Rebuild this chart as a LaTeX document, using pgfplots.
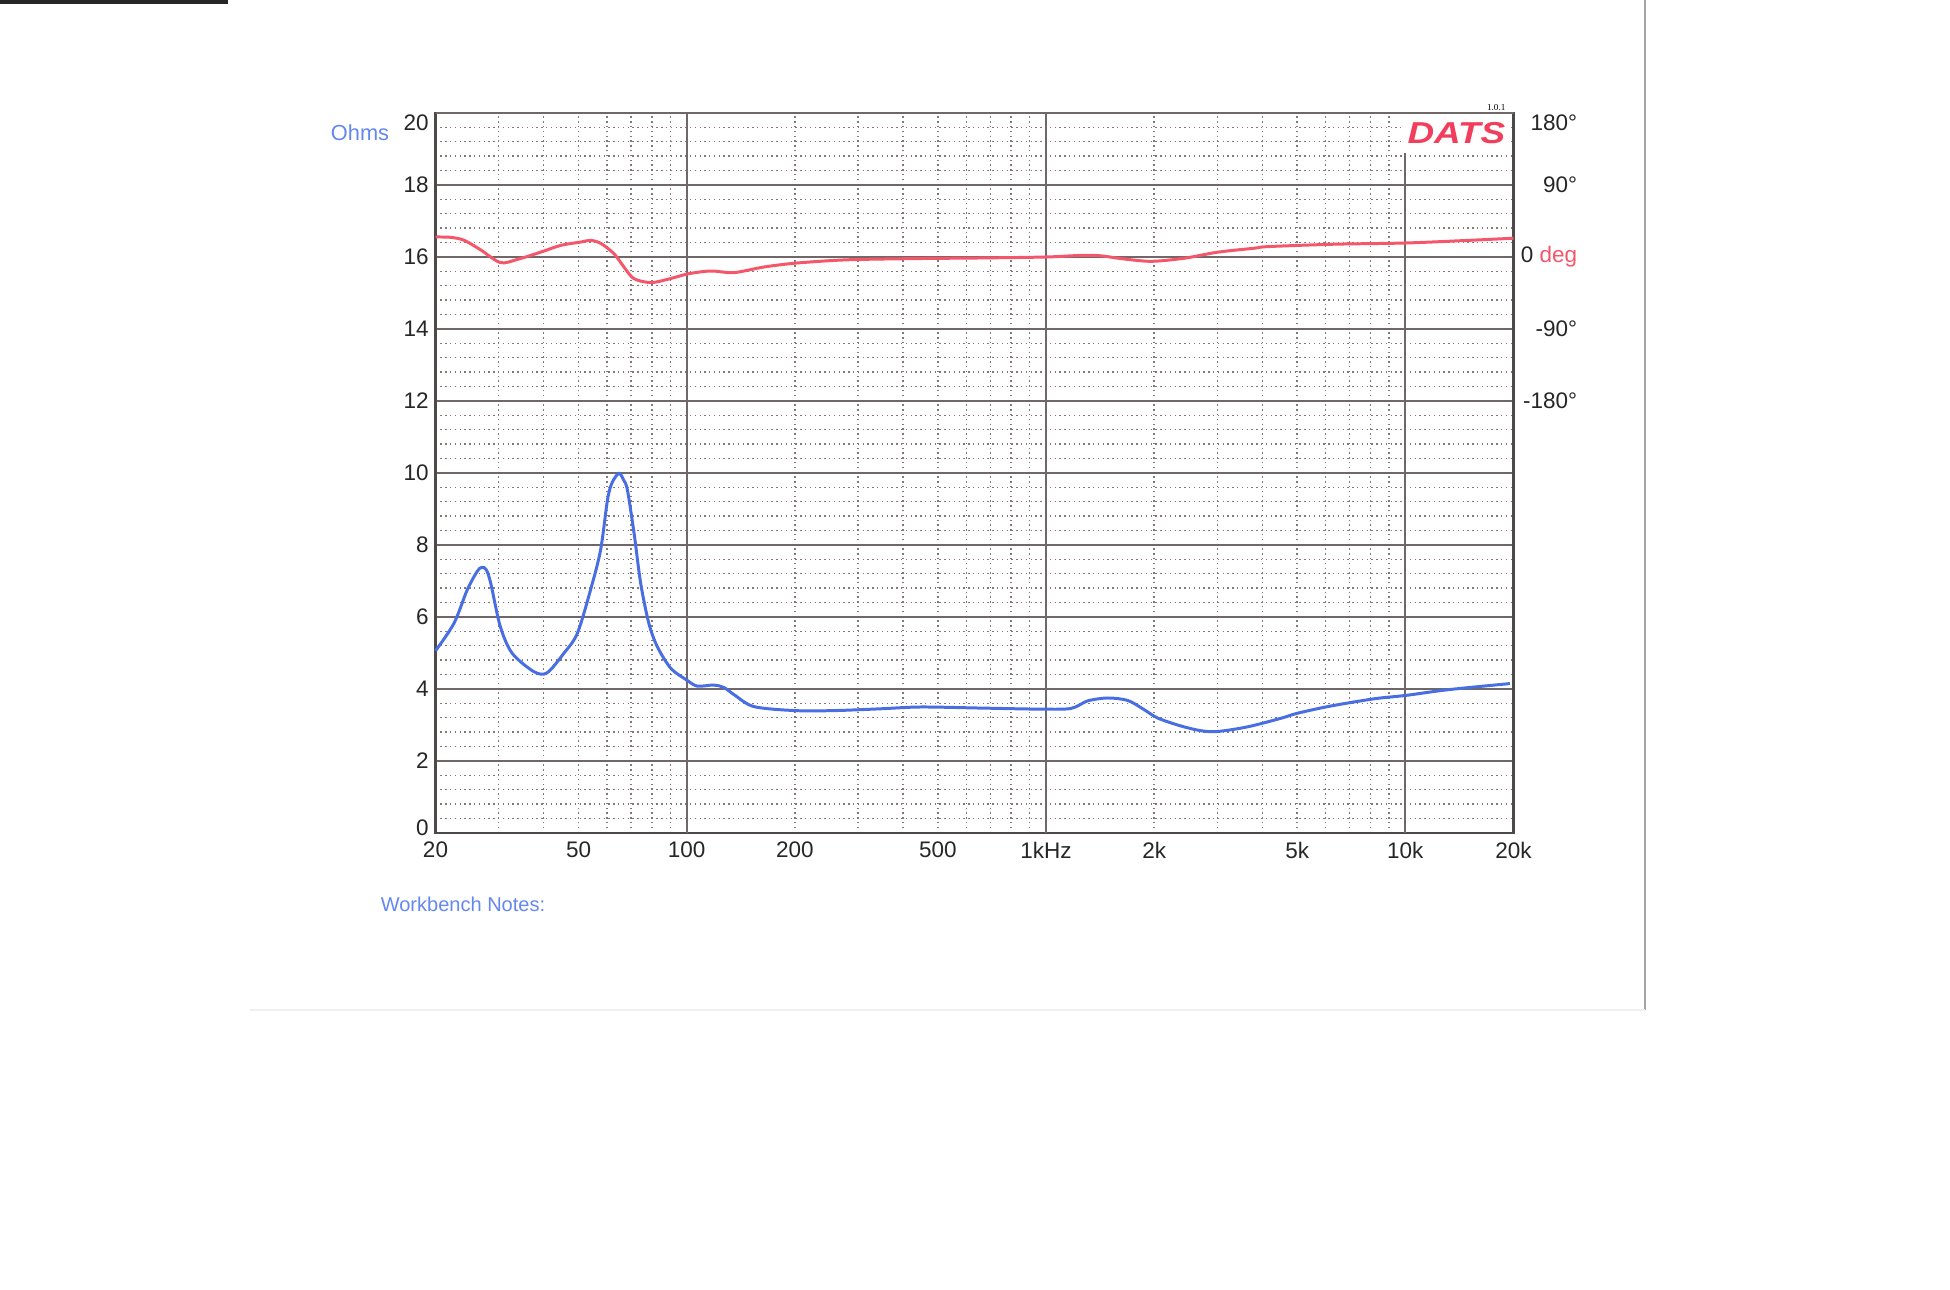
\documentclass[border=0pt]{standalone}
\usepackage{graphicx}
\usepackage{pgfplots}
\pgfplotsset{compat=1.18}
\usepackage{fontspec}
\setmainfont{Liberation Sans}
\newfontfamily\seriffont{Liberation Serif}
\definecolor{imp}{RGB}{72,110,226}
\definecolor{phs}{RGB}{244,86,106}
\definecolor{lbl}{RGB}{100,135,240}
\definecolor{dats}{RGB}{240,62,92}
\definecolor{gridc}{RGB}{112,104,104}
\definecolor{dotc}{RGB}{130,120,120}

\pgfplotstableread{
f Z
20 5.06
22.5 5.82
24.5 6.75
26.1 7.26
26.9 7.38
27.7 7.31
28.5 6.93
30.3 5.73
32.7 4.99
37.6 4.48
40.9 4.45
45.5 4.99
49.6 5.54
54 6.75
57.6 7.86
60.2 9.25
62.0 9.73
64.8 9.99
66.8 9.80
68.4 9.53
71.4 8.32
74.5 6.93
78.5 5.82
82.9 5.17
90.4 4.57
100 4.25
107 4.08
119 4.11
127 4.04
136 3.83
154 3.51
200 3.40
258 3.40
347 3.45
449 3.50
659 3.47
969 3.44
1174 3.46
1306 3.67
1486 3.75
1690 3.68
1880 3.42
2048 3.19
2378 2.97
2704 2.84
3008 2.82
3646 2.95
4518 3.19
5024 3.33
6223 3.53
8221 3.73
10000 3.82
13150 3.98
19540 4.15
}\imptable

\pgfplotstableread{
f P
20 25
22 24.6
24 21
26.7 9
30.3 -7
33.8 -3
39.2 6
44.6 14.5
50.7 18.7
54 20.8
57.7 17
62.8 4
66.9 -12.5
71.3 -27
79.4 -32
88.4 -28
101 -21
116.7 -17.5
135.5 -19.5
164 -12.5
203 -7.5
280 -3.5
430 -2
659 -1.2
1000 0
1250 2
1420 1.5
1620 -2
1960 -5.4
2430 -1.5
3000 6
3800 11
4150 13
6366 16
10000 17.5
15000 20.8
20000 23.5
}\phstable

\begin{document}
\begin{tikzpicture}
\path[use as bounding box] (0,0) rectangle (19.5,12.9);
\fill[black!85] (0,12.86) rectangle (2.28,12.9);
\draw[gray!70, line width=0.25mm] (16.45,12.9) -- (16.45,2.8);
\draw[gray!12, line width=0.2mm] (2.5,2.8) -- (16.45,2.8);

\begin{axis}[
  at={(4.355cm,4.57cm)}, anchor=south west,
  scale only axis, width=10.78cm, height=7.20cm,
  xmode=log, xmin=20, xmax=20000, ymin=0, ymax=20,
  xtick={20,50,100,200,500,1000,2000,5000,10000,20000},
  xticklabels={20,50,100,200,500,1kHz,2k,5k,10k,20k},
  minor xtick={30,40,50,60,70,80,90,200,300,400,500,600,700,800,900,2000,3000,4000,5000,6000,7000,8000,9000},
  extra x ticks={100,1000,10000},
  extra x tick labels={\empty,\empty,\empty},
  extra x tick style={grid=major},
  xmajorgrids=false, xminorgrids=true,
  ytick={0,2,...,20},
  yticklabels={\smash{\raisebox{-0.3mm}{0}},2,4,6,8,10,12,14,16,18,\empty},
  extra y ticks={20}, extra y tick labels={20},
  extra y tick style={yticklabel style={yshift=-1mm}},
  minor y tick num=4,
  ymajorgrids=true, yminorgrids=true,
  major grid style={draw=gridc, line width=0.5pt},
  minor grid style={draw=dotc, line width=0.4pt, dash pattern=on 0.14mm off 0.34mm},
  tick style={draw=none},
  axis line style={draw=gridc!70!black, line width=0.6pt},
  ticklabel style={font=\fontsize{6.4}{7}\selectfont, text=black!85},
  yticklabel style={xshift=0.55mm},
  xticklabel style={yshift=0.35mm},
  clip=false,
]
\addplot[imp, line width=0.85pt, smooth] table[x=f, y=Z] {\imptable};
\node[fill=white, inner sep=0pt, minimum width=1.1cm, minimum height=0.39cm,
      font=\fontsize{8.6}{9}\selectfont\bfseries\itshape, text=dats]
  at (rel axis cs:0.947,0.972) {\scalebox{1.22}[1]{DATS}};
\node[font=\fontsize{2.6}{3}\selectfont\seriffont, inner sep=0pt] at (rel axis cs:0.984,1.008) {1.0.1};
\node[font=\fontsize{6.2}{7}\selectfont, text=lbl, inner sep=0pt] at (rel axis cs:-0.070,0.972) {Ohms};
\node[font=\fontsize{5.7}{7}\selectfont, text=lbl, inner sep=0pt] at (rel axis cs:0.0255,-0.0986) {Workbench Notes:};
\end{axis}

\begin{axis}[
  at={(4.355cm,4.57cm)}, anchor=south west,
  scale only axis, width=10.78cm, height=7.20cm,
  xmode=log, xmin=20, xmax=20000, ymin=-720, ymax=180,
  hide x axis,
  axis y line*=right,
  axis line style={draw=none},
  ytick={-180,-90,0,90},
  yticklabels={-180°,-90°,0 \textcolor{phs}{deg},90°},
  extra y ticks={180}, extra y tick labels={180°},
  extra y tick style={yticklabel style={yshift=-1mm}},
  yticklabel style={font=\fontsize{6.4}{7}\selectfont, text=black!85, anchor=east, xshift=7.6mm},
  tick style={draw=none},
]
\addplot[phs, line width=0.85pt, smooth] table[x=f, y=P] {\phstable};
\end{axis}
\end{tikzpicture}
\end{document}
